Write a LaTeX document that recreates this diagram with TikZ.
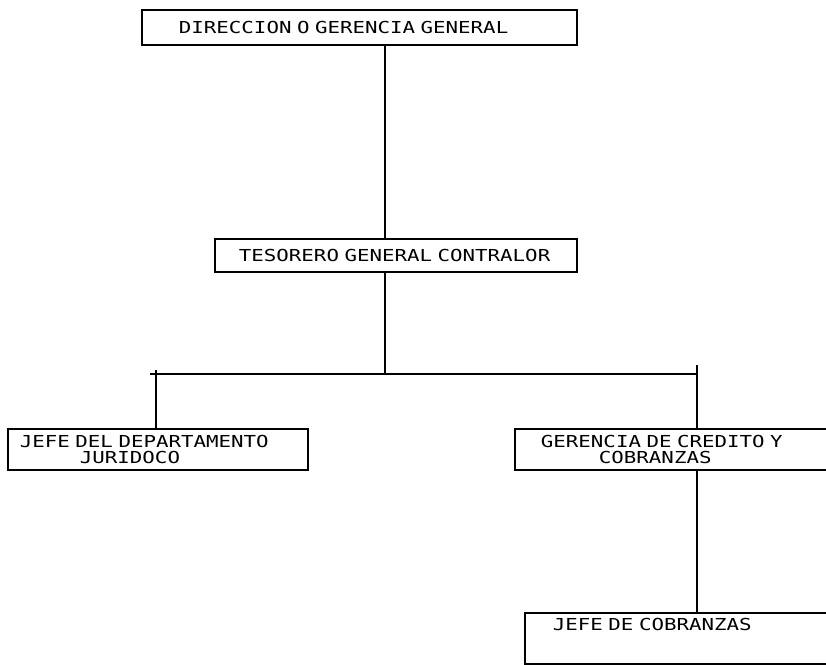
\documentclass[tikz,border=0pt]{standalone}
\usepackage{fontspec}
\setmainfont{DejaVu Sans Mono}[FakeStretch=1.26]
\usetikzlibrary{calc}

\tikzset{
  orgbox/.style={draw, line width=1.8pt, anchor=north west, align=left,
    inner ysep=0pt, font=\fontsize{16.5}{16}\selectfont},
  link/.style={line width=1.8pt}
}

\begin{document}
\begin{tikzpicture}[x=1pt,y=-1pt]
      % ---- page frame (boxes on the right run off the sheet) ----
      \useasboundingbox (0,0) rectangle (826,664);
      \clip (0,0) rectangle (826,664);

      % ---- boxes ---------------------------------------
      \node[orgbox, inner xsep=37pt, text width=361pt, minimum height=35pt]
        (dir) at (141,9) {DIRECCION O GERENCIA GENERAL};
      \node[orgbox, inner xsep=24pt, text width=314pt, minimum height=33pt]
        (tes) at (214,238) {TESORERO GENERAL CONTRALOR};
      \node[orgbox, inner xsep=12pt, text width=276pt, minimum height=41pt]
        (jur) at (7,428) {JEFE DEL DEPARTAMENTO\\\hspace*{60pt}JURIDOCO};
      \node[orgbox, inner xsep=26pt, text width=348pt, minimum height=41pt]
        (cre) at (514,428) {GERENCIA DE CREDITO Y\\\hspace*{58pt}COBRANZAS};
      \node[orgbox, inner xsep=28pt, text width=344pt, text height=18pt, text depth=33pt]
        (cob) at (524,612) {JEFE DE COBRANZAS};

      % ---- connectors ----------------------------------
      \coordinate (trunk)  at (385,374);
      \coordinate (barL)   at (156,374);
      \coordinate (barR)   at (697,374);
      \coordinate (barTop) at (697,365);

      \draw[link] (dir.south -| trunk) -- (tes.north -| trunk);
      \draw[link] (tes.south -| trunk) -- (trunk);
      \draw[link] ($(barL)+(-6,0)$) -- (barR);
      \draw[link] ($(barL)+(0,-4)$) -- (barL |- jur.north);
      \draw[link] (barTop) -- (barTop |- cre.north);
      \draw[link] (cre.south -| barR) -- (cob.north -| barR);
    \end{tikzpicture}
\end{document}
